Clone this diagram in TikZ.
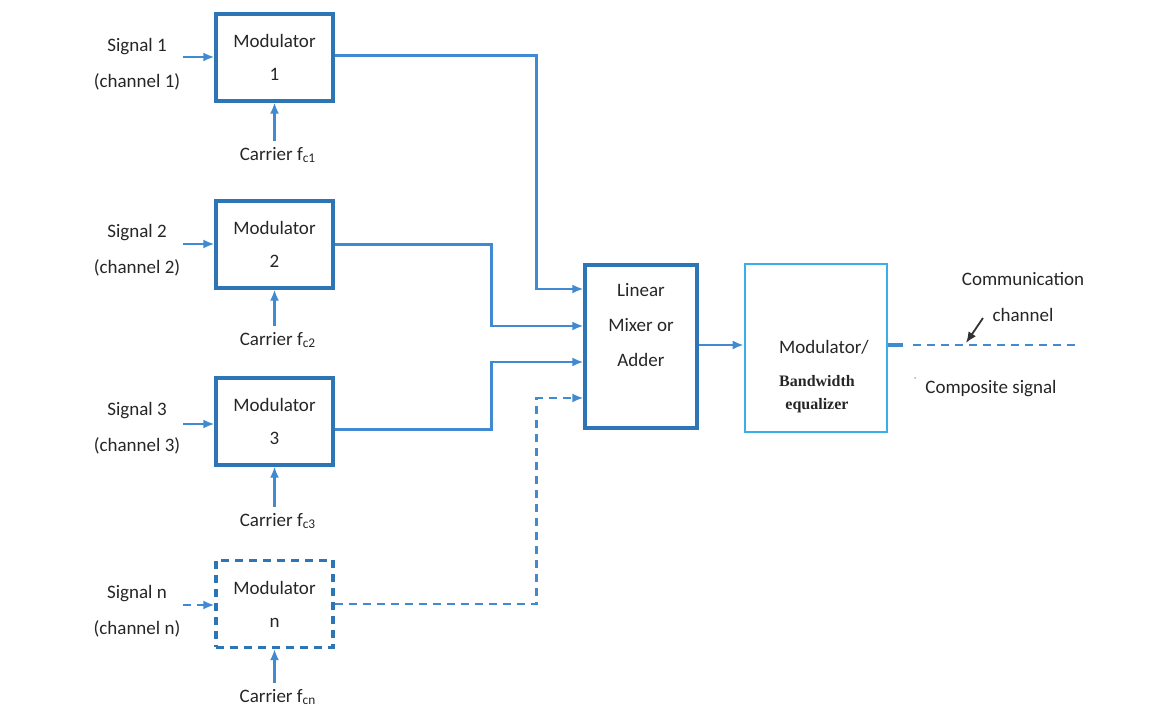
\documentclass[tikz,border=0pt]{standalone}
\usepackage{fontspec}
\setmainfont{Carlito}
\newfontfamily\timesbf{Liberation Serif}
\usetikzlibrary{arrows.meta,calc}
\definecolor{boxblue}{HTML}{2E75B6}
\definecolor{lineblue}{HTML}{3F8AD0}
\definecolor{lightbox}{HTML}{3AAEE6}
\definecolor{txt}{HTML}{262626}
\begin{document}
\begin{tikzpicture}[x=0.5pt,y=-0.5pt,
  modbox/.style={draw=boxblue,line width=1.6pt,minimum width=58.5pt,minimum height=43.5pt,inner sep=0pt,align=center,font=\fontsize{9.5}{16.5}\selectfont,text=txt},
  lbl/.style={align=center,font=\fontsize{9.5}{18}\selectfont,text=txt,inner sep=0pt},
  conn/.style={draw=lineblue,line width=1.2pt},
  arr/.style={conn,-{Latex[length=5.5pt,width=4.5pt]}},
  dsh/.style={dash pattern=on 4pt off 3pt}
]
\useasboundingbox (0,0) rectangle (1164,711);
% modulator boxes
\node[modbox] (m1) at (274.5,57.5) {Modulator\\1};
\node[modbox] (m2) at (274.5,244.5) {Modulator\\2};
\node[modbox] (m3) at (274.5,421.5) {Modulator\\3};
\node[modbox,dsh] (mn) at (274.5,604) {Modulator\\n};
% signal labels
\node[lbl] (s1l) at (137,64) {Signal 1\\(channel 1)};
\node[lbl] (s2l) at (137,250) {Signal 2\\(channel 2)};
\node[lbl] (s3l) at (137,428) {Signal 3\\(channel 3)};
\node[lbl] (snl) at (137,611) {Signal n\\(channel n)};
\coordinate (s1) at (183,57);
\coordinate (s2) at (183,244);
\coordinate (s3) at (183,424);
\coordinate (sn) at (183,605);
\draw[arr] (s1) -- (s1 -| m1.west);
\draw[arr] (s2) -- (s2 -| m2.west);
\draw[arr] (s3) -- (s3 -| m3.west);
\draw[arr,dsh] (sn) -- (sn -| mn.west);
% carriers
\node[lbl] (c1) at (278,155) {Carrier f\textsubscript{c1}};
\node[lbl] (c2) at (278,340) {Carrier f\textsubscript{c2}};
\node[lbl] (c3) at (278,521) {Carrier f\textsubscript{c3}};
\node[lbl] (cn) at (278,697) {Carrier f\textsubscript{cn}};
\draw[arr] ([yshift=3pt]m1.south |- c1.north) -- (m1.south);
\draw[arr] ([yshift=3pt]m2.south |- c2.north) -- (m2.south);
\draw[arr] ([yshift=3pt]m3.south |- c3.north) -- (m3.south);
\draw[arr] ([yshift=3pt]mn.south |- cn.north) -- (mn.south);
% adder
\node[draw=boxblue,line width=1.6pt,minimum width=56pt,minimum height=81.5pt,inner sep=0pt] (add) at (641,346.5) {};
\node[lbl,font=\fontsize{9.5}{17.5}\selectfont] (addt) at (641,325) {Linear\\Mixer or\\Adder};
\coordinate (a1) at (add.west |- 0,289);
\coordinate (a2) at (add.west |- 0,326);
\coordinate (a3) at (add.west |- 0,362);
\coordinate (a4) at (add.west |- 0,398);
\coordinate (o1) at ($(m1.east)+(0,-2)$);
\coordinate (o3) at ($(m3.east)+(0,8)$);
\draw[arr] (o1) -| ($(a1)+(-47,0)$) -- (a1);
\draw[arr] (m2.east) -| ($(a2)+(-92,0)$) -- (a2);
\draw[arr] (o3) -| ($(a3)+(-92,0)$) -- (a3);
\draw[arr,dsh] (mn.east) -| ($(a4)+(-47,0)$) -- (a4);
% modulator / bandwidth equalizer
\node[draw=lightbox,line width=1.3pt,minimum width=71pt,minimum height=84pt,inner sep=0pt] (bw) at (816,348) {};
\node[lbl] (bwt1) at (824,347) {Modulator/};
\node[align=center,font=\timesbf\bfseries\fontsize{8}{11.5}\selectfont,text=txt,inner sep=0pt] (bwt2) at (817,394) {Bandwidth\\equalizer};
\draw[arr] (add.east |- 0,345) -- (bw.west |- 0,345);
% output channel
\coordinate (q1) at (bw.east |- 0,345);
\coordinate (q2) at (903,345);
\coordinate (q3) at (913,345);
\coordinate (q4) at (1075,345);
\draw[draw=lineblue,line width=2.2pt] (q1) -- (q2);
\draw[conn,dsh] (q3) -- (q4);
\node[lbl] (comm) at (1023,297) {Communication\\channel};
\coordinate (ct) at (983,318);
\draw[black!80,line width=0.9pt,-{Latex[length=5.5pt,width=4.5pt]}] (ct) -- (966,343);
\node[lbl] (comp) at (991,389) {Composite signal};
\fill[gray!60] (915,378) circle (1);
\end{tikzpicture}
\end{document}
